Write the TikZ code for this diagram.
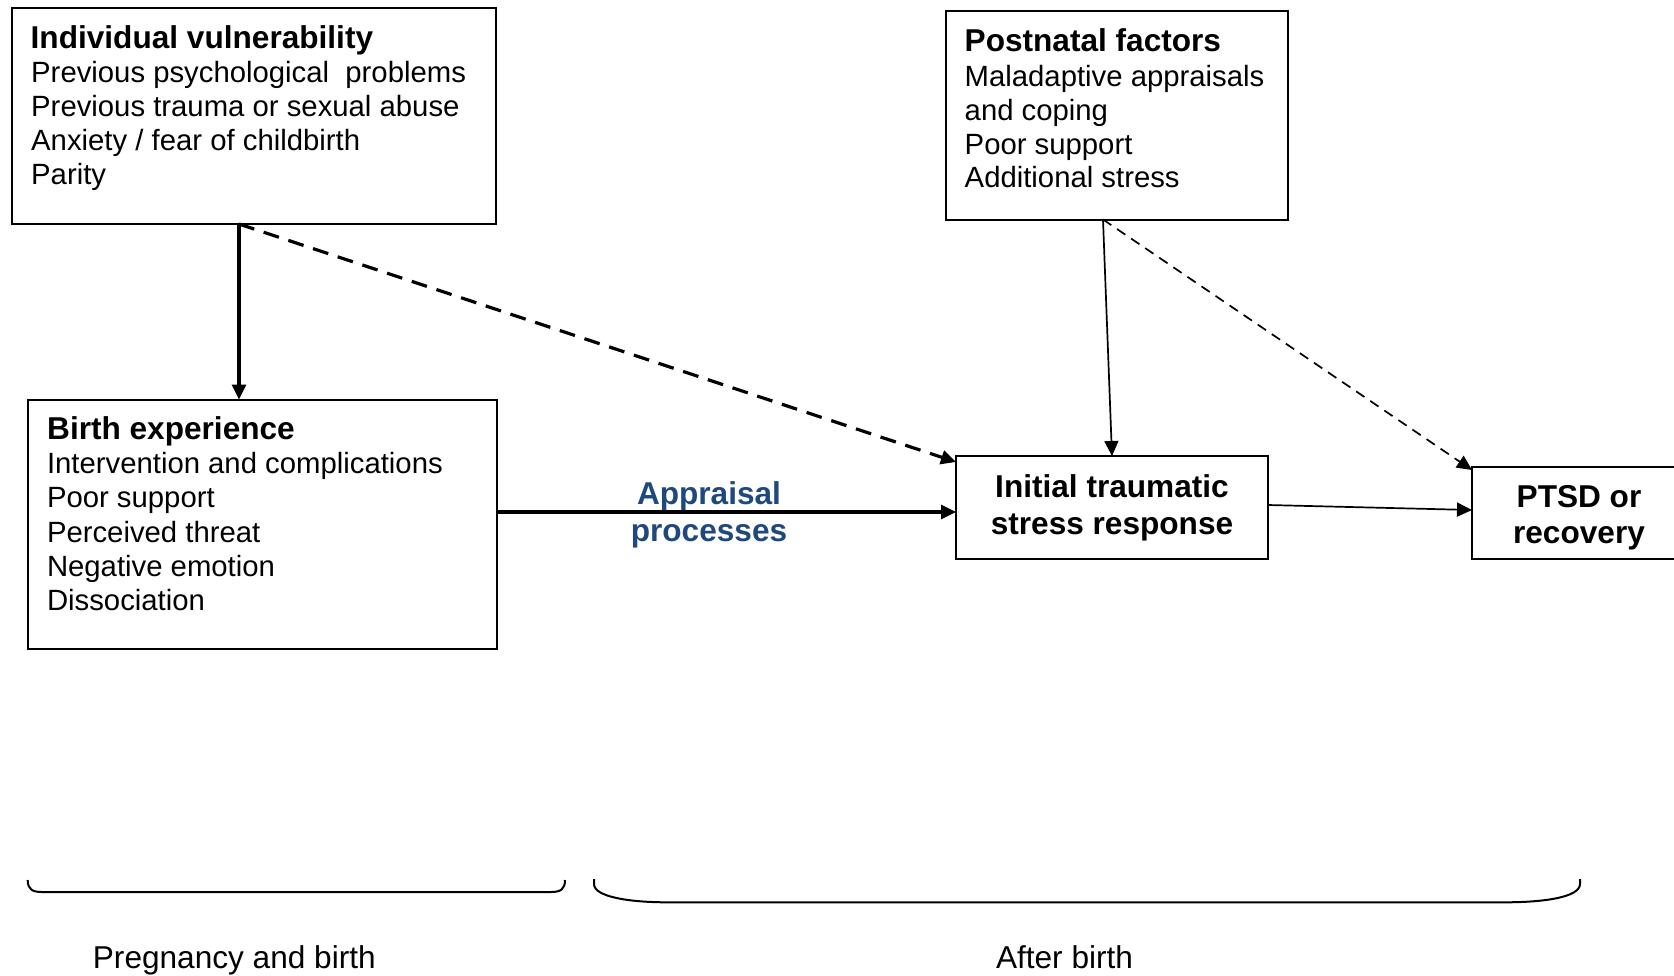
\documentclass[tikz,border=0pt]{standalone}
\usepackage{fontspec}
\setmainfont{Liberation Sans}
\usetikzlibrary{arrows.meta}
\definecolor{apblue}{RGB}{31,73,125}
\newcommand\bodyfnt{\fontsize{29.3}{33}\selectfont}
\newcommand\ttlfnt{\fontsize{31.6}{35}\selectfont\bfseries}
\begin{document}
\begin{tikzpicture}[x=1pt,y=-1pt,
  box/.style={draw, line width=2pt, anchor=north west, inner sep=0pt, outer sep=0pt},
  bodytxt/.style={font=\bodyfnt, inner sep=0pt, anchor=base west},
  ttltxt/.style={font=\ttlfnt, inner sep=0pt, anchor=base west},
  ctrtxt/.style={font=\ttlfnt, inner sep=0pt, anchor=base},
  bottxt/.style={font=\fontsize{31.6}{35}\selectfont, inner sep=0pt},
  thickarr/.style={line width=3.2pt, -{Triangle[length=15pt,width=14pt]}},
  thinarr/.style={line width=1.7pt, -{Triangle[length=15pt,width=14pt]}},
  dashthick/.style={dash pattern=on 16pt off 10pt},
  dashthin/.style={dash pattern=on 10pt off 7pt},
  brc/.style={line width=2pt}
]
\useasboundingbox (0,0) rectangle (1674,975);

% boxes
\node[box, minimum width=484pt, minimum height=216pt] (iv) at (12,8) {};
\node[box, minimum width=469.5pt, minimum height=249pt] (birth) at (27.5,399.5) {};
\node[box, minimum width=341.5pt, minimum height=208.5pt] (post) at (946,11) {};
\node[box, minimum width=312pt, minimum height=103pt] (itsr) at (956,456) {};
\node[box, minimum width=214pt, minimum height=91.5pt] (ptsd) at (1472,467) {};

% individual vulnerability
\node[ttltxt] (ivT) at (30.5,48.5) {Individual vulnerability};
\foreach \t [count=\i from 0] in {Previous psychological~ problems, Previous trauma or sexual abuse, Anxiety / fear of childbirth, Parity}
  \node[bodytxt] (ivL\i) at (31,{82+34.2*\i}) {\t};

% birth experience
\node[ttltxt] (biT) at (47,439.3) {Birth experience};
\foreach \t [count=\i from 0] in {Intervention and complications, Poor support, Perceived threat, Negative emotion, Dissociation}
  \node[bodytxt] (biL\i) at (46.8,{473.7+34.2*\i}) {\t};

% postnatal factors
\node[ttltxt] (poT) at (964.5,51.7) {Postnatal factors};
\foreach \t [count=\i from 0] in {Maladaptive appraisals, and coping, Poor support, Additional stress}
  \node[bodytxt] (poL\i) at (964.5,{86.5+33.8*\i}) {\t};

% initial traumatic stress response
\node[ctrtxt] (itA) at (1112,497.3) {Initial traumatic};
\node[ctrtxt] (itB) at (1112,534.5) {stress response};

% PTSD
\node[ctrtxt] (ptA) at (1579,507.5) {PTSD or};
\node[ctrtxt] (ptB) at (1579,543.5) {recovery};

% appraisal
\node[ctrtxt, text=apblue] (apA) at (709,504) {Appraisal};
\node[ctrtxt, text=apblue] (apB) at (709,541) {processes};

% connectors
\draw[thickarr] ([xshift=227pt]iv.south west) -- ([xshift=211.5pt]birth.north west);
\draw[thickarr, dashthick] ([xshift=227pt]iv.south west) -- ([yshift=-6pt]itsr.north west);
\draw[thickarr] ([yshift=12pt]birth.east) -- ([yshift=-4.5pt]itsr.west);
\draw[thinarr] ([xshift=157pt]post.south west) -- (itsr.north);
\draw[thinarr, dashthin] ([xshift=157pt]post.south west) -- ([yshift=-3pt]ptsd.north west);
\draw[thinarr] ([yshift=2.5pt]itsr.east) -- ([yshift=2.75pt]ptsd.west);

% braces
\draw[brc] (27.7,880) .. controls (27.7,889) and (32,892) .. (42,892) -- (551,892) .. controls (561,892) and (565,889) .. (565,880);
\draw[brc] (594,879) -- (594,884) .. controls (594,897) and (630,902.3) .. (667,902.3) -- (1505,902.3) .. controls (1545,902.3) and (1580,897) .. (1580,884) -- (1580,879);

% period labels
\node[bottxt, anchor=base west] (pregL) at (92.7,968) {Pregnancy and birth};
\node[bottxt, anchor=base] (afterL) at (1064.5,968) {After birth};
\end{tikzpicture}
\end{document}
